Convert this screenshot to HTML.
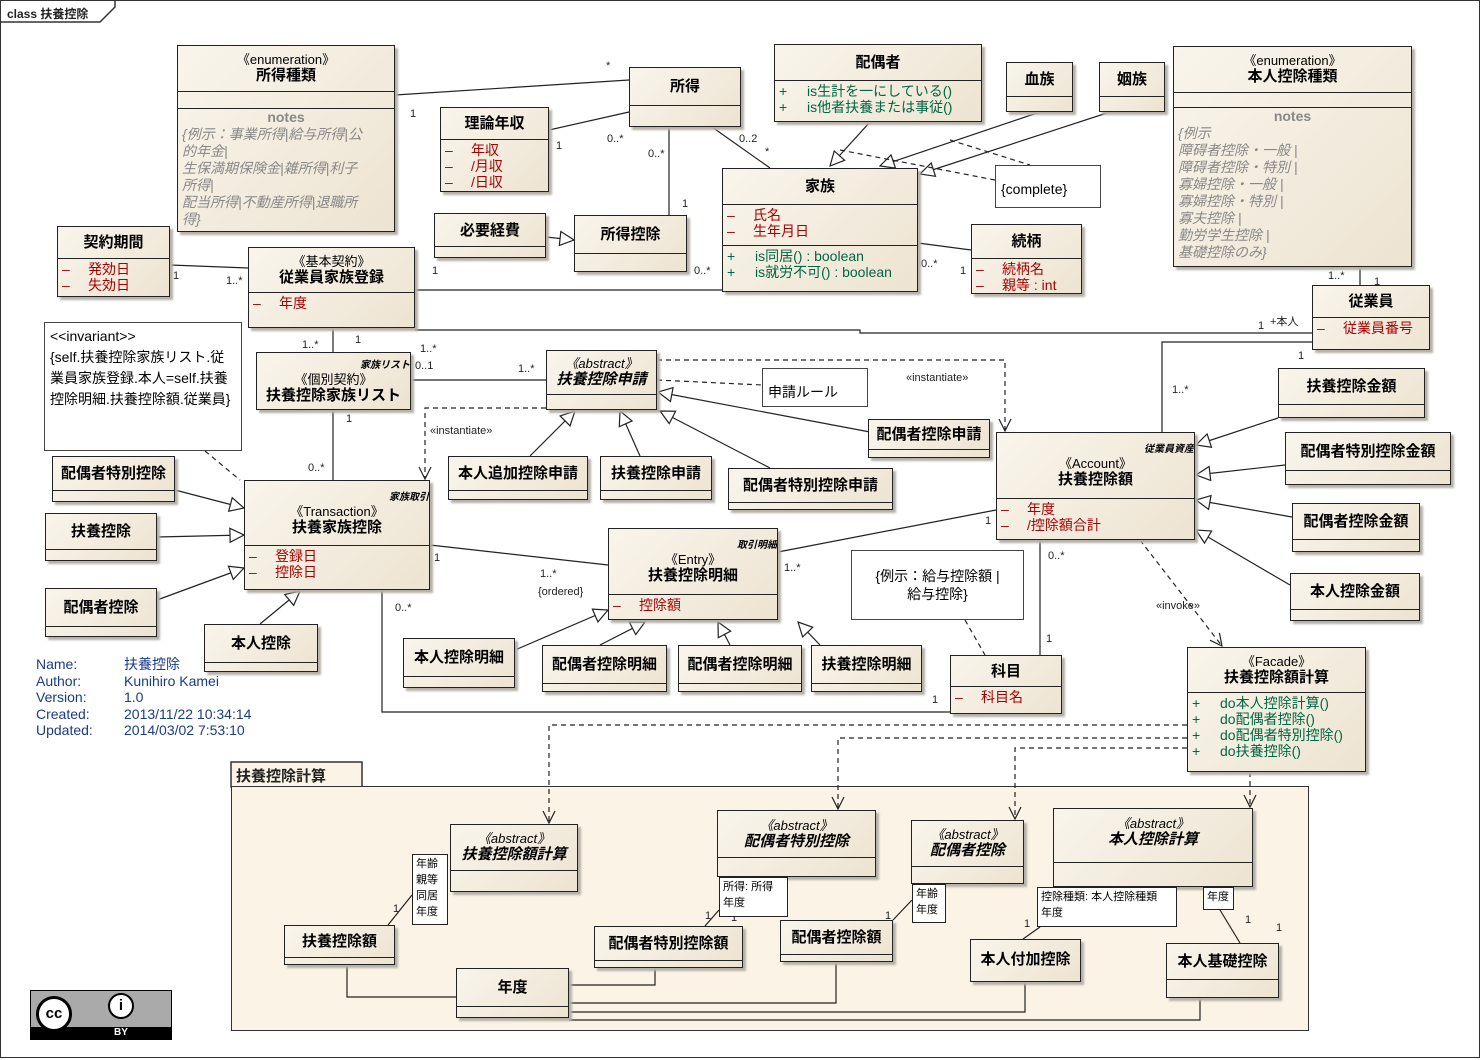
<!DOCTYPE html>
<html><head><meta charset="utf-8">
<style>
body{margin:0;width:1483px;height:1060px;background:#fff;position:relative;overflow:hidden;font-family:"Liberation Sans","Noto Sans CJK JP",sans-serif;}
.b{position:absolute;border:1.5px solid #222;background:linear-gradient(135deg,#f9f5ec,#ede3d1);box-shadow:3px 3px 2px #b5b0a8;box-sizing:border-box;overflow:hidden;}
.h{border-bottom:1.5px solid #222;text-align:center;font-weight:bold;font-size:15px;line-height:17px;box-sizing:border-box;display:flex;flex-direction:column;justify-content:center;}
.s{font-weight:normal;font-size:13px;line-height:14px;}
.i{font-style:italic;}
.a{color:#a00;font-size:14px;line-height:16px;padding:2px 0 0 4px;white-space:nowrap;}
.a span{display:inline-block;width:26px;}
.o{color:#064;font-size:14px;line-height:16px;padding:2px 0 0 4px;white-space:nowrap;}
.o span{display:inline-block;width:28px;}
.n{color:#888;font-style:italic;font-size:14px;line-height:17px;padding:0 4px;white-space:nowrap;}
.nt{position:absolute;background:#fff;border:1.2px solid #444;box-sizing:border-box;font-size:14px;line-height:18px;padding:3px 5px;}
.q{position:absolute;background:#fff;border:1.2px solid #222;box-sizing:border-box;font-size:11px;line-height:16px;padding:1px 3px;}
.t{position:absolute;font-size:11px;color:#222;white-space:nowrap;}
.pk{position:absolute;background:#fbf3e5;border:1.5px solid #333;box-sizing:border-box;}
svg{position:absolute;left:0;top:0;}
</style></head><body>
<div style="position:absolute;left:0;top:0;width:1480px;height:1058px;border:1.5px solid #333;box-sizing:border-box"></div>
<svg width="1483" height="1060" style="z-index:0">
<path d="M1,22 L100,22 L115,7 L115,1" fill="none" stroke="#333" stroke-width="1.5"/>
<rect x="231" y="762" width="131" height="25" fill="#fbf3e5" stroke="#333" stroke-width="1.5"/>
</svg>
<div class="t" style="left:7px;top:5px;font-size:12px;font-weight:bold">class 扶養控除</div>
<div class="pk" style="left:231px;top:786px;width:1078px;height:245px"></div>
<div class="t" style="left:236px;top:765px;font-size:15px;font-weight:bold">扶養控除計算</div>

<svg width="1483" height="1060" style="z-index:1">
<defs>
<marker id="tri" markerWidth="16" markerHeight="16" refX="15" refY="8" orient="auto" markerUnits="userSpaceOnUse"><path d="M1,1 L15,8 L1,15 Z" fill="#fff" stroke="#222" stroke-width="1.2"/></marker>
<marker id="op" markerWidth="14" markerHeight="14" refX="13" refY="7" orient="auto" markerUnits="userSpaceOnUse"><path d="M1,1 L13,7 L1,13" fill="none" stroke="#222" stroke-width="1.2"/></marker>
</defs>
<g fill="none" stroke="#222" stroke-width="1.2">
<path d="M395,95 L629,80"/><path d="M549,130 L629,112"/><path d="M712,127 L770,168"/>
<path d="M669,127 L669,215"/><path d="M918,243 L971,250"/><path d="M415,290 L722,290"/>
<path d="M170,265 L248,268"/><path d="M415,330 L860,330 L860,333 L1312,333"/>
<path d="M1360,267 L1360,285"/><path d="M333,328 L333,352"/><path d="M411,380 L546,380"/>
<path d="M333,410 L333,480"/><path d="M430,545 L608,565"/><path d="M382,590 L382,712 L950,712"/>
<path d="M778,552 L996,510"/><path d="M1040,540 L1040,655"/>
<path d="M1312,342 L1162,342 L1162,432"/>
</g>
<g fill="none" stroke="#222" stroke-width="1.2" marker-end="url(#tri)">
<path d="M546,237 L574,240"/><path d="M870,122 L830,166"/><path d="M1040,112 L880,166"/><path d="M1110,112 L920,174"/>
<path d="M530,456 L575,411"/><path d="M640,456 L620,411"/><path d="M770,468 L660,411"/><path d="M870,432 L658,392"/>
<path d="M175,490 L244,508"/><path d="M157,537 L244,535"/><path d="M157,600 L244,568"/><path d="M260,624 L300,591"/>
<path d="M515,650 L608,610"/><path d="M600,645 L645,622"/><path d="M730,645 L718,622"/><path d="M820,645 L798,622"/>
<path d="M1278,418 L1196,445"/><path d="M1285,465 L1196,475"/><path d="M1292,517 L1196,500"/><path d="M1290,585 L1196,530"/>
</g>
<g fill="none" stroke="#222" stroke-width="1.2" stroke-dasharray="5,4">
<path d="M840,150 L995,180"/><path d="M950,140 L1030,165"/><path d="M657,380 L762,385"/><path d="M205,451 L240,480"/><path d="M965,620 L985,655"/>
</g>
<g fill="none" stroke="#222" stroke-width="1.2" stroke-dasharray="5,4" marker-end="url(#op)">
<path d="M546,408 L425,408 L425,479"/><path d="M657,360 L1005,360 L1005,431"/><path d="M1140,540 L1222,646"/>
<path d="M1187,725 L549,725 L549,823"/><path d="M1187,738 L838,738 L838,809"/><path d="M1187,748 L1015,748 L1015,819"/><path d="M1250,772 L1250,807"/>
</g>
<g fill="none" stroke="#222" stroke-width="1.2">
<path d="M412,895 L388,925"/><path d="M719,910 L705,926"/><path d="M912,900 L893,920"/><path d="M1040,927 L1023,939"/><path d="M1220,910 L1240,943"/>
<path d="M347,965 L347,997 L456,997"/><path d="M655,968 L655,985 L569,985"/><path d="M836,962 L836,1003 L569,1003"/><path d="M1025,982 L1025,1012 L569,1012"/><path d="M1200,998 L1200,1020 L569,1020"/>
</g>
</svg>

<div style="position:absolute;left:0;top:0;width:1483px;height:1060px;z-index:2">
<div class="t" style="left:410px;top:108px">1</div><div class="t" style="left:606px;top:60px">*</div>
<div class="t" style="left:556px;top:140px">1</div><div class="t" style="left:607px;top:133px">0..*</div>
<div class="t" style="left:648px;top:148px">0..*</div><div class="t" style="left:682px;top:198px">1</div>
<div class="t" style="left:739px;top:133px">0..2</div><div class="t" style="left:765px;top:146px">*</div>
<div class="t" style="left:173px;top:270px">1</div><div class="t" style="left:226px;top:275px">1..*</div>
<div class="t" style="left:432px;top:265px">1</div><div class="t" style="left:694px;top:265px">0..*</div>
<div class="t" style="left:921px;top:258px">0..*</div><div class="t" style="left:960px;top:265px">1</div>
<div class="t" style="left:1328px;top:270px">1..*</div><div class="t" style="left:1374px;top:276px">1</div>
<div class="t" style="left:1258px;top:320px">1</div><div class="t" style="left:1270px;top:313px">+本人</div>
<div class="t" style="left:302px;top:339px">1..*</div><div class="t" style="left:355px;top:334px">1</div>
<div class="t" style="left:420px;top:343px">1..*</div><div class="t" style="left:415px;top:360px">0..1</div>
<div class="t" style="left:518px;top:363px">1..*</div><div class="t" style="left:346px;top:413px">1</div>
<div class="t" style="left:308px;top:462px">0..*</div><div class="t" style="left:906px;top:372px">«instantiate»</div>
<div class="t" style="left:430px;top:425px">«instantiate»</div>
<div class="t" style="left:1298px;top:350px">1</div><div class="t" style="left:1172px;top:384px">1..*</div>
<div class="t" style="left:434px;top:552px">1</div><div class="t" style="left:540px;top:568px">1..*</div>
<div class="t" style="left:538px;top:586px">{ordered}</div><div class="t" style="left:784px;top:562px">1..*</div>
<div class="t" style="left:985px;top:515px">1</div><div class="t" style="left:395px;top:602px">0..*</div>
<div class="t" style="left:932px;top:694px">1</div><div class="t" style="left:1048px;top:550px">0..*</div>
<div class="t" style="left:1046px;top:633px">1</div><div class="t" style="left:1156px;top:600px">«invoke»</div>
<div class="t" style="left:393px;top:903px">1</div><div class="t" style="left:705px;top:910px">1</div><div class="t" style="left:731px;top:912px">1</div>
<div class="t" style="left:885px;top:910px">1</div><div class="t" style="left:1024px;top:918px">1</div><div class="t" style="left:1245px;top:914px">1</div><div class="t" style="left:1276px;top:922px">1</div>

<div class="b" style="left:177px;top:45px;width:218px;height:187px"><div class="h" style="height:46px"><div class="s">《enumeration》</div>所得種類</div><div style="height:16px;border-bottom:1.5px solid #222"></div><div class="n"><div style="text-align:center;font-style:normal;font-weight:bold">notes</div>{例示：事業所得|給与所得|公<br>的年金|<br>生保満期保険金|雑所得|利子<br>所得|<br>配当所得|不動産所得|退職所<br>得}</div></div>
<div class="b" style="left:629px;top:67px;width:112px;height:60px"><div class="h" style="height:38px">所得</div></div>
<div class="b" style="left:774px;top:44px;width:208px;height:78px"><div class="h" style="height:36px">配偶者</div><div class="o"><span>+</span>is生計を一にしている()<br><span>+</span>is他者扶養または事従()</div></div>
<div class="b" style="left:1006px;top:62px;width:67px;height:50px"><div class="h" style="height:34px">血族</div></div>
<div class="b" style="left:1099px;top:62px;width:66px;height:50px"><div class="h" style="height:34px">姻族</div></div>
<div class="b" style="left:1173px;top:46px;width:239px;height:221px"><div class="h" style="height:46px"><div class="s">《enumeration》</div>本人控除種類</div><div style="height:14px;border-bottom:1.5px solid #222"></div><div class="n"><div style="text-align:center;font-style:normal;font-weight:bold">notes</div>{例示<br>障碍者控除・一般 |<br>障碍者控除・特別 |<br>寡婦控除・一般 |<br>寡婦控除・特別 |<br>寡夫控除 |<br>勤労学生控除 |<br>基礎控除のみ}</div></div>
<div class="b" style="left:440px;top:107px;width:109px;height:85px"><div class="h" style="height:32px">理論年収</div><div class="a"><span>–</span>年収<br><span>–</span>/月収<br><span>–</span>/日収</div></div>
<div class="b" style="left:722px;top:168px;width:196px;height:124px"><div class="h" style="height:36px">家族</div><div class="a" style="height:38px;border-bottom:1.5px solid #222"><span>–</span>氏名<br><span>–</span>生年月日</div><div class="o"><span>+</span>is同居() : boolean<br><span>+</span>is就労不可() : boolean</div></div>
<div class="nt" style="left:995px;top:165px;width:106px;height:43px;padding-top:14px">{complete}</div>
<div class="b" style="left:434px;top:213px;width:112px;height:45px"><div class="h" style="height:33px">必要経費</div></div>
<div class="b" style="left:574px;top:215px;width:113px;height:57px"><div class="h" style="height:38px">所得控除</div></div>
<div class="b" style="left:57px;top:226px;width:113px;height:71px"><div class="h" style="height:32px">契約期間</div><div class="a"><span>–</span>発効日<br><span>–</span>失効日</div></div>
<div class="b" style="left:248px;top:247px;width:167px;height:81px"><div class="h" style="height:45px"><div class="s">《基本契約》</div>従業員家族登録</div><div class="a"><span>–</span>年度</div></div>
<div class="b" style="left:971px;top:224px;width:111px;height:70px"><div class="h" style="height:34px">続柄</div><div class="a"><span>–</span>続柄名<br><span>–</span>親等 : int</div></div>
<div class="b" style="left:1312px;top:285px;width:118px;height:65px"><div class="h" style="height:32px">従業員</div><div class="a"><span>–</span>従業員番号</div></div>
<div class="nt" style="left:44px;top:322px;width:198px;height:129px;line-height:21px">&lt;&lt;invariant&gt;&gt;<br>{self.扶養控除家族リスト.従業員家族登録.本人=self.扶養控除明細.扶養控除額.従業員}</div>
<div class="b" style="left:256px;top:352px;width:155px;height:58px"><div class="h" style="height:56px;border:0"><div class="s i" style="text-align:right;font-size:10px;font-weight:bold">家族リスト</div><div class="s">《個別契約》</div>扶養控除家族リスト</div></div>
<div class="b" style="left:546px;top:350px;width:111px;height:60px"><div class="h i" style="height:44px"><div class="s">《abstract》</div>扶養控除申請</div></div>
<div class="nt" style="left:762px;top:368px;width:106px;height:39px;padding-top:14px">申請ルール</div>
<div class="b" style="left:868px;top:419px;width:122px;height:39px"><div class="h" style="height:30px">配偶者控除申請</div></div>
<div class="b" style="left:996px;top:432px;width:199px;height:108px"><div class="h" style="height:66px"><div class="s i" style="text-align:right;font-size:10px;font-weight:bold">従業員資産</div><div class="s">《Account》</div>扶養控除額</div><div class="a"><span>–</span>年度<br><span>–</span>/控除額合計</div></div>
<div class="b" style="left:1278px;top:368px;width:147px;height:50px"><div class="h" style="height:36px">扶養控除金額</div></div>
<div class="b" style="left:1285px;top:432px;width:166px;height:53px"><div class="h" style="height:38px">配偶者特別控除金額</div></div>
<div class="b" style="left:1292px;top:503px;width:128px;height:49px"><div class="h" style="height:36px">配偶者控除金額</div></div>
<div class="b" style="left:1290px;top:573px;width:130px;height:48px"><div class="h" style="height:36px">本人控除金額</div></div>
<div class="b" style="left:52px;top:456px;width:123px;height:46px"><div class="h" style="height:34px">配偶者特別控除</div></div>
<div class="b" style="left:45px;top:513px;width:112px;height:48px"><div class="h" style="height:36px">扶養控除</div></div>
<div class="b" style="left:45px;top:588px;width:112px;height:49px"><div class="h" style="height:38px">配偶者控除</div></div>
<div class="b" style="left:244px;top:480px;width:186px;height:110px"><div class="h" style="height:65px"><div class="s i" style="text-align:right;font-size:10px;font-weight:bold">家族取引</div><div class="s">《Transaction》</div>扶養家族控除</div><div class="a"><span>–</span>登録日<br><span>–</span>控除日</div></div>
<div class="b" style="left:448px;top:456px;width:140px;height:44px"><div class="h" style="height:34px">本人追加控除申請</div></div>
<div class="b" style="left:600px;top:456px;width:112px;height:44px"><div class="h" style="height:34px">扶養控除申請</div></div>
<div class="b" style="left:728px;top:468px;width:165px;height:42px"><div class="h" style="height:34px">配偶者特別控除申請</div></div>
<div class="b" style="left:204px;top:624px;width:114px;height:48px"><div class="h" style="height:38px">本人控除</div></div>
<div class="b" style="left:608px;top:528px;width:170px;height:92px"><div class="h" style="height:66px"><div class="s i" style="text-align:right;font-size:10px;font-weight:bold">取引明細</div><div class="s">《Entry》</div>扶養控除明細</div><div class="a"><span>–</span>控除額</div></div>
<div class="b" style="left:403px;top:638px;width:112px;height:50px"><div class="h" style="height:38px">本人控除明細</div></div>
<div class="b" style="left:542px;top:645px;width:125px;height:47px"><div class="h" style="height:38px">配偶者控除明細</div></div>
<div class="b" style="left:678px;top:645px;width:124px;height:47px"><div class="h" style="height:38px">配偶者控除明細</div></div>
<div class="b" style="left:811px;top:645px;width:111px;height:47px"><div class="h" style="height:38px">扶養控除明細</div></div>
<div class="nt" style="left:851px;top:550px;width:173px;height:70px;text-align:center;padding-top:16px">{例示：給与控除額 |<br>給与控除}</div>
<div class="b" style="left:950px;top:655px;width:112px;height:59px"><div class="h" style="height:31px">科目</div><div class="a"><span>–</span>科目名</div></div>
<div class="b" style="left:1187px;top:647px;width:179px;height:125px"><div class="h" style="height:45px"><div class="s">《Facade》</div>扶養控除額計算</div><div class="o"><span>+</span>do本人控除計算()<br><span>+</span>do配偶者控除()<br><span>+</span>do配偶者特別控除()<br><span>+</span>do扶養控除()</div></div>

<div class="b" style="left:450px;top:824px;width:128px;height:68px"><div class="h i" style="height:46px"><div class="s">《abstract》</div>扶養控除額計算</div></div>
<div class="q" style="left:412px;top:854px;width:36px;height:71px">年齢<br>親等<br>同居<br>年度</div>
<div class="b" style="left:284px;top:925px;width:111px;height:40px"><div class="h" style="height:32px">扶養控除額</div></div>
<div class="b" style="left:717px;top:810px;width:159px;height:67px"><div class="h i" style="height:47px"><div class="s">《abstract》</div>配偶者特別控除</div></div>
<div class="q" style="left:719px;top:877px;width:69px;height:40px">所得: 所得<br>年度</div>
<div class="b" style="left:594px;top:926px;width:149px;height:42px"><div class="h" style="height:34px">配偶者特別控除額</div></div>
<div class="b" style="left:911px;top:820px;width:113px;height:64px"><div class="h i" style="height:46px"><div class="s">《abstract》</div>配偶者控除</div></div>
<div class="q" style="left:912px;top:884px;width:34px;height:39px">年齢<br>年度</div>
<div class="b" style="left:780px;top:920px;width:113px;height:42px"><div class="h" style="height:34px">配偶者控除額</div></div>
<div class="b" style="left:1053px;top:808px;width:200px;height:79px"><div class="h i" style="height:54px;justify-content:flex-start;padding-top:8px"><div class="s">《abstract》</div>本人控除計算</div></div>
<div class="q" style="left:1037px;top:887px;width:140px;height:40px">控除種類: 本人控除種類<br>年度</div>
<div class="q" style="left:1203px;top:887px;width:31px;height:23px">年度</div>
<div class="b" style="left:970px;top:939px;width:111px;height:43px"><div class="h" style="height:38px;border:0">本人付加控除</div></div>
<div class="b" style="left:1166px;top:943px;width:113px;height:55px"><div class="h" style="height:36px">本人基礎控除</div></div>
<div class="b" style="left:456px;top:968px;width:113px;height:50px"><div class="h" style="height:38px">年度</div></div>

<div style="position:absolute;left:36px;top:656px;width:300px;font-size:14px;line-height:16.5px;color:#1a3a8a;white-space:nowrap">
<div style="position:relative">Name:<span style="position:absolute;left:88px">扶養控除</span></div>
<div style="position:relative">Author:<span style="position:absolute;left:88px">Kunihiro Kamei</span></div>
<div style="position:relative">Version:<span style="position:absolute;left:88px">1.0</span></div>
<div style="position:relative">Created:<span style="position:absolute;left:88px">2013/11/22 10:34:14</span></div>
<div style="position:relative">Updated:<span style="position:absolute;left:88px">2014/03/02 7:53:10</span></div>
</div>
<div style="position:absolute;left:30px;top:990px;width:142px;height:50px;background:#aaa;border:1.5px solid #000;box-sizing:border-box">
<div style="position:absolute;left:0;bottom:0;width:100%;height:12px;background:#000;color:#fff;font-size:10px;font-weight:bold;text-align:center;line-height:12px;padding-left:40px;box-sizing:border-box">BY</div>
<div style="position:absolute;left:5px;top:5px;width:36px;height:36px;border-radius:50%;background:#fff;border:3px solid #000;box-sizing:border-box;font-weight:bold;font-size:15px;line-height:30px;text-align:center">cc</div>
<div style="position:absolute;left:77px;top:2px;width:26px;height:26px;border-radius:50%;background:#fff;border:2.5px solid #000;box-sizing:border-box;font-weight:bold;font-size:15px;line-height:21px;text-align:center">i</div>
</div>
</div>
</body></html>
